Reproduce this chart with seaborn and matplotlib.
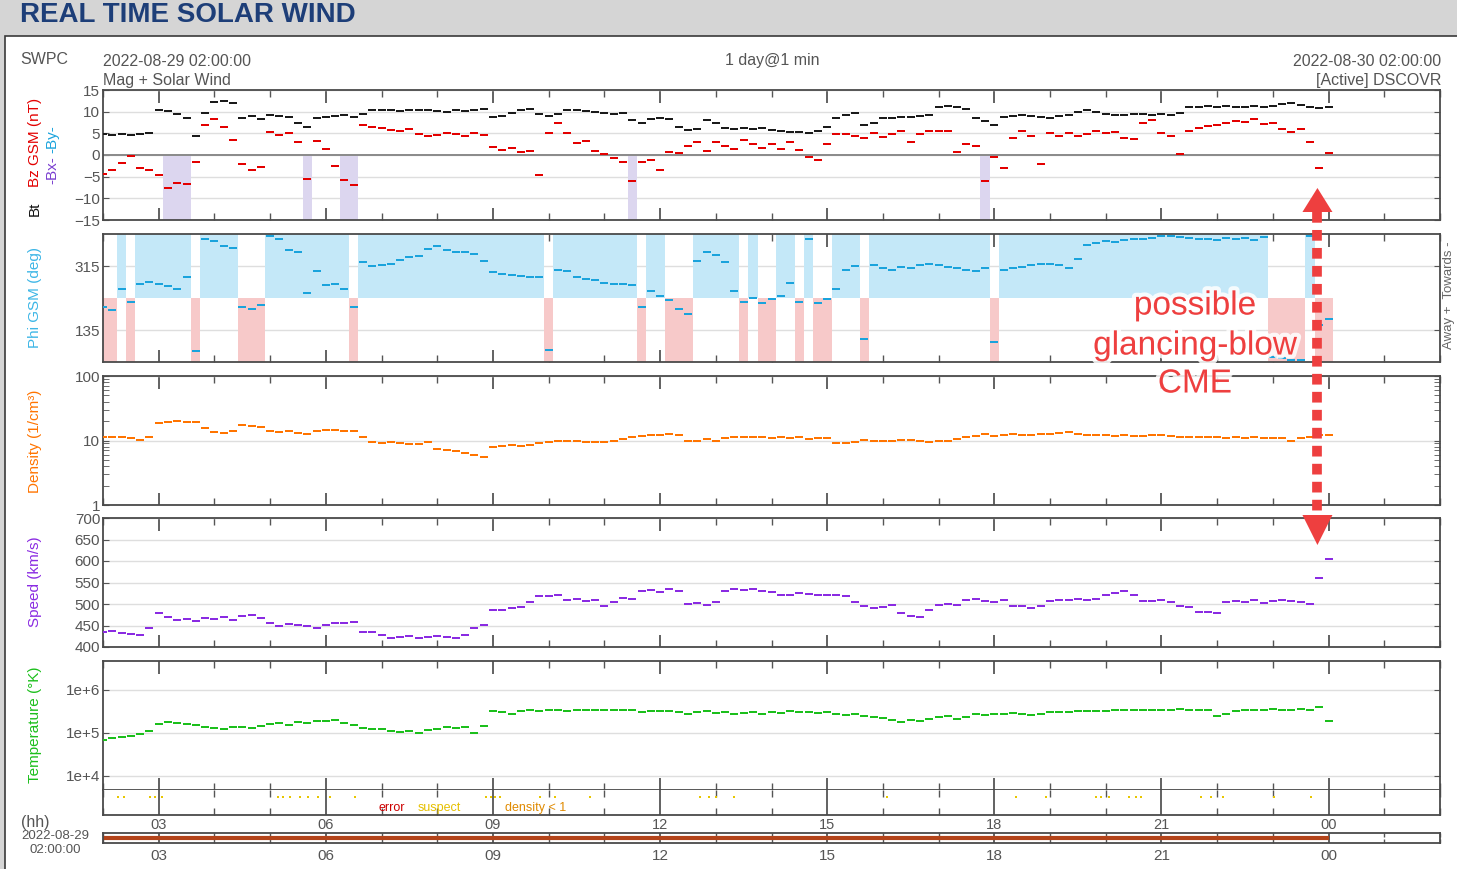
import numpy as np
import pandas as pd
import seaborn as sns
import matplotlib.pyplot as plt
import matplotlib.patheffects as pe
import matplotlib.transforms as mtransforms
from matplotlib.patches import Rectangle, Polygon
from matplotlib.lines import Line2D
from matplotlib.ticker import FixedLocator

# DSCOVR real time solar wind, 2022-08-29 02:00 UTC -> 2022-08-30 02:00 UTC
# values, one sample every 10 minutes
minutes = np.arange(0, 1321, 10)

bt = [4.8, 4.7, 4.9, 4.6, 4.8, 5.0,
      10.5, 10.2, 9.5, 8.5, 4.5, 9.8,
      12.2, 12.5, 12.0, 8.6, 9.0, 8.3,
      9.3, 9.0, 8.7, 7.5, 6.5, 8.5,
      8.8, 9.0, 9.2, 8.8, 9.5, 10.4,
      10.3, 10.5, 10.2, 10.4, 10.3, 10.5,
      10.2, 10.0, 10.3, 10.2, 10.5, 10.6,
      8.8, 9.0, 9.8, 10.5, 10.6, 9.4,
      9.0, 9.5, 10.3, 10.5, 10.2, 10.0,
      9.6, 9.4, 9.8, 8.0, 7.4, 8.3,
      8.6, 8.2, 6.5, 5.8, 6.0, 8.0,
      7.5, 6.3, 6.0, 6.2, 6.0, 6.2,
      5.8, 5.5, 5.3, 5.2, 5.0, 5.5,
      6.5, 8.5, 9.2, 9.6, 7.0, 7.3,
      8.5, 8.6, 8.8, 8.7, 9.0, 9.2,
      11.0, 11.2, 11.0, 10.6, 8.5, 7.8,
      7.0, 8.7, 9.0, 9.3, 9.0, 8.8,
      8.6, 8.9, 9.3, 10.0, 10.3, 10.0,
      9.4, 9.2, 9.3, 9.5, 9.4, 9.3,
      9.4, 9.2, 9.6, 11.0, 11.1, 11.2,
      11.1, 11.2, 11.0, 11.1, 11.2, 11.0,
      11.3, 11.8, 12.0, 11.5, 11.0, 10.8,
      11.0]

bz = [-4.3, -3.5, -1.8, -0.2, -3.0, -3.5,
      -4.5, -7.5, -6.5, -6.8, -1.5, 7.0,
      8.3, 6.5, 3.5, -2.0, -3.5, -2.8,
      5.2, 4.7, 5.0, 3.0, -5.5, 3.3,
      1.5, -2.5, -5.8, -7.0, 7.0, 6.5,
      6.2, 5.8, 5.5, 6.0, 4.8, 4.5,
      4.6, 5.0, 4.8, 4.5, 5.0, 4.6,
      1.8, 1.2, 1.6, 0.6, 1.0, -4.5,
      5.0, 7.5, 5.0, 2.8, 3.2, 1.0,
      0.3, -0.8, -1.5, -6.0, -1.5, -1.2,
      -3.5, 0.8, 0.5, 2.0, 3.0, 1.0,
      3.0, 2.0, 1.5, 3.5, 2.5, 1.7,
      2.5, 1.5, 3.0, 1.2, -0.5, -1.2,
      2.5, 4.8, 4.9, 4.5, 4.0, 5.0,
      4.2, 4.8, 5.5, 3.0, 4.8, 5.5,
      5.6, 5.6, 0.8, 2.5, 2.0, -6.0,
      -0.5, -3.0, 4.0, 5.5, 4.5, -2.0,
      5.0, 4.5, 5.0, 4.3, 4.8, 5.5,
      5.0, 5.2, 4.0, 3.8, 7.5, 8.0,
      5.0, 4.5, 0.2, 5.5, 6.3, 6.8,
      7.0, 7.5, 7.8, 7.6, 8.3, 7.2,
      7.5, 6.0, 5.3, 6.0, 3.0, -3.0,
      0.5]

phi = [200, 190, 250, 215, 265, 270,
       265, 258, 250, 285, 75, 390,
       385, 370, 365, 200, 195, 205,
       400, 390, 360, 355, 240, 300,
       262, 265, 250, 200, 325, 315,
       318, 322, 332, 340, 343, 362,
       372, 360, 353, 355, 350, 330,
       298, 292, 290, 286, 283, 284,
       80, 305, 300, 283, 278, 275,
       268, 265, 265, 262, 200, 245,
       230, 220, 195, 180, 330, 355,
       345, 325, 245, 215, 225, 210,
       222, 230, 268, 215, 390, 210,
       222, 250, 305, 315, 110, 318,
       310, 305, 312, 310, 318, 322,
       318, 312, 308, 303, 302, 308,
       100, 305, 310, 313, 318, 320,
       322, 318, 310, 335, 375, 380,
       385, 383, 388, 392, 390, 395,
       400, 398, 396, 395, 392, 390,
       388, 393, 390, 394, 388, 396,
       58, 55, 52, 50, 398, 150,
       165]

density = [11.3, 11.5, 11.2, 11.0, 10.2, 11.5,
           19.0, 19.5, 19.8, 19.2, 19.5, 15.5,
           13.6, 13.2, 13.8, 17.2, 16.8, 16.2,
           13.8, 13.7, 13.9, 13.2, 12.8, 14.0,
           14.3, 14.5, 14.2, 14.0, 11.2, 9.5,
           9.3, 9.5, 9.0, 8.9, 8.8, 9.6,
           7.5, 7.2, 6.8, 6.4, 6.0, 5.6,
           8.0, 8.3, 8.5, 8.2, 8.6, 9.2,
           9.6, 9.8, 9.7, 9.8, 9.5, 9.6,
           9.5, 9.7, 10.5, 11.5, 11.8, 12.0,
           12.2, 12.5, 12.0, 10.0, 9.8, 10.4,
           10.0, 11.0, 11.3, 11.2, 11.5, 11.2,
           11.0, 11.3, 10.8, 11.2, 10.6, 10.8,
           11.0, 9.3, 9.0, 9.4, 10.2, 10.0,
           10.0, 9.8, 10.2, 10.3, 9.8, 9.6,
           10.0, 9.8, 10.5, 11.3, 11.6, 12.5,
           11.8, 12.0, 12.5, 12.3, 12.0, 12.5,
           12.8, 13.2, 13.6, 12.8, 12.0, 12.2,
           12.0, 11.8, 12.0, 11.6, 11.8, 12.0,
           12.0, 11.8, 11.5, 11.3, 11.4, 11.2,
           11.3, 11.1, 11.2, 11.0, 11.2, 11.0,
           10.8, 11.0, 10.0, 10.8, 11.5, 12.0,
           12.2]

speed = [436, 437, 432, 430, 428, 445,
         478, 470, 462, 465, 460, 468,
         465, 470, 462, 473, 475, 468,
         455, 450, 453, 452, 448, 445,
         452, 455, 456, 457, 435, 435,
         428, 422, 424, 425, 420, 423,
         425, 424, 422, 428, 444, 452,
         485, 487, 490, 492, 505, 518,
         518, 520, 510, 512, 508, 510,
         495, 505, 514, 512, 530, 532,
         528, 535, 530, 500, 502, 498,
         505, 530, 535, 532, 534, 530,
         528, 522, 520, 525, 523, 520,
         520, 522, 518, 505, 495, 490,
         492, 498, 478, 472, 470, 485,
         498, 500, 497, 510, 512, 508,
         505, 510, 495, 495, 490, 495,
         508, 510, 510, 512, 510, 512,
         520, 525, 530, 520, 508, 506,
         510, 505, 495, 492, 482, 481,
         480, 505, 508, 505, 510, 503,
         508, 510, 506, 505, 500, 560,
         605]

temperature = [7.0e4, 7.5e4, 8.0e4, 8.5e4, 9.5e4, 1.1e5,
               1.6e5, 1.8e5, 1.7e5, 1.6e5, 1.5e5, 1.4e5,
               1.3e5, 1.25e5, 1.35e5, 1.4e5, 1.3e5, 1.45e5,
               1.6e5, 1.7e5, 1.5e5, 1.8e5, 1.7e5, 1.9e5,
               1.9e5, 2.0e5, 1.7e5, 1.5e5, 1.3e5, 1.2e5,
               1.2e5, 1.1e5, 1.05e5, 1.1e5, 1.0e5, 1.15e5,
               1.2e5, 1.4e5, 1.3e5, 1.4e5, 1.0e5, 1.45e5,
               3.2e5, 3.0e5, 2.8e5, 3.2e5, 3.4e5, 3.3e5,
               3.5e5, 3.4e5, 3.3e5, 3.5e5, 3.4e5, 3.4e5,
               3.4e5, 3.4e5, 3.4e5, 3.4e5, 3.0e5, 3.3e5,
               3.2e5, 3.3e5, 3.0e5, 2.8e5, 3.1e5, 3.2e5,
               2.9e5, 3.1e5, 2.7e5, 2.9e5, 3.1e5, 2.8e5,
               3.0e5, 2.9e5, 3.2e5, 3.0e5, 3.1e5, 2.9e5,
               3.0e5, 2.8e5, 2.6e5, 2.7e5, 2.5e5, 2.3e5,
               2.2e5, 2.0e5, 1.8e5, 2.0e5, 1.9e5, 2.1e5,
               2.3e5, 2.5e5, 2.1e5, 2.4e5, 2.8e5, 2.6e5,
               2.7e5, 2.8e5, 2.9e5, 2.8e5, 2.6e5, 2.8e5,
               3.0e5, 3.1e5, 3.0e5, 3.2e5, 3.2e5, 3.3e5,
               3.3e5, 3.4e5, 3.5e5, 3.4e5, 3.5e5, 3.5e5,
               3.5e5, 3.5e5, 3.6e5, 3.5e5, 3.4e5, 3.5e5,
               2.5e5, 2.7e5, 3.2e5, 3.5e5, 3.4e5, 3.5e5,
               3.6e5, 3.5e5, 3.4e5, 3.6e5, 3.5e5, 4.0e5,
               1.9e5]

# times (hours after 02:00) flagged "suspect" in the quality strip
suspect_hours = [0.27, 0.38, 0.84, 0.93, 1.06, 3.14, 3.23, 3.36, 3.54, 3.68,
                 3.86, 4.08, 4.53, 6.88, 6.97, 7.04, 7.13, 7.85, 8.12, 8.75,
                 10.72, 10.87, 11.01, 11.32, 14.08, 16.38, 16.92, 17.82, 17.91,
                 18.05, 18.41, 18.54, 18.63, 19.71, 19.89, 20.10, 21.02, 21.68]

cme_hour = 21.8          # arrival of the shock at DSCOVR
sector_split = 225       # phi boundary between away / towards
bz_south = -5            # Bz below this gets the purple shading

df = pd.DataFrame({'hours': minutes / 60, 'bt': bt, 'bz': bz, 'phi': phi,
                   'density': density, 'speed': speed, 'temp': temperature})

sns.set_style('white')
plt.rcParams['font.family'] = ['Liberation Sans', 'DejaVu Sans']

W, H = 1457, 869
fig = plt.figure(figsize=(W / 100, H / 100), dpi=100)
fig.patch.set_facecolor('#d5d5d5')
fig.add_artist(Rectangle((5 / W, -0.01), 1.0, 1 - 36 / H + 0.01, transform=fig.transFigure,
                         facecolor='white', edgecolor='#3a3a3a', lw=1.2, zorder=-10))

grey = '#555555'


def px(x, y):
    return x / W, 1 - y / H


def add_ax(top, bottom):
    ax = fig.add_axes([103 / W, 1 - bottom / H, 1337 / W, (bottom - top) / H])
    ax.set_zorder(2)
    return ax


major_hours = list(range(1, 24, 3))
hour_labels = [f'{(2 + h) % 24:02d}' for h in major_hours]


def style(ax, labels=False, pad=3):
    ax.set_xlim(0, 24)
    ax.xaxis.set_major_locator(FixedLocator(major_hours))
    ax.xaxis.set_minor_locator(FixedLocator(range(0, 25)))
    ax.set_xticklabels(hour_labels if labels else [])
    ax.tick_params(axis='x', which='major', direction='in', length=9, width=1.3,
                   top=True, bottom=True, color=grey, labelsize=11.5, labelcolor=grey, pad=pad)
    ax.tick_params(axis='x', which='minor', direction='in', length=5, width=1,
                   top=True, bottom=True, color=grey)
    ax.tick_params(axis='y', which='both', direction='in', length=4, left=True, right=True,
                   color=grey, labelsize=11, labelcolor=grey, pad=2)
    ax.set_xlabel('')
    ax.set_ylabel('')
    for s in ax.spines.values():
        s.set_color('#4a4a4a')
        s.set_linewidth(1.3)


# short horizontal tick per 10-min sample, so the series reads as a dotted trace
dash = [(-1, -0.3), (1, -0.3), (1, 0.3), (-1, 0.3)]
dot = dict(s=30, marker=dash, linewidth=0, legend=False, zorder=3)

# --- magnetic field
ax_mag = add_ax(90, 220)
south = df[df['bz'] < bz_south]
ax_mag.bar(south['hours'], -15, bottom=0, width=1 / 6, color='#dcd6ef', linewidth=0, zorder=1)
ax_mag.axhline(0, color='#8a8a8a', lw=1.4, zorder=2)
sns.scatterplot(data=df, x='hours', y='bt', color='#1a1a1a', ax=ax_mag, **dot)
sns.scatterplot(data=df, x='hours', y='bz', color='#e30000', ax=ax_mag, **dot)
ax_mag.set_ylim(-15, 15)
ax_mag.set_yticks(range(-15, 16, 5))
ax_mag.grid(axis='y', color='#dedede', lw=1, zorder=0)
style(ax_mag)

# --- phi angle with sector shading
ax_phi = add_ax(234, 362)
tow = df[df['phi'] >= sector_split]
away = df[df['phi'] < sector_split]
ax_phi.bar(tow['hours'], 405 - sector_split, bottom=sector_split, width=1 / 6,
           color='#c4e8f8', linewidth=0, zorder=1)
ax_phi.bar(away['hours'], sector_split - 45, bottom=45, width=1 / 6,
           color='#f7c9c9', linewidth=0, zorder=1)
sns.scatterplot(data=df, x='hours', y='phi', color='#1aa3dc', ax=ax_phi, **dot)
ax_phi.set_ylim(45, 405)
ax_phi.set_yticks([135, 315])
ax_phi.grid(axis='y', color='#dedede', lw=1, zorder=2)
style(ax_phi)

# --- density
ax_den = add_ax(376, 505)
sns.scatterplot(data=df, x='hours', y='density', color='#ff7400', ax=ax_den, **dot)
ax_den.set_yscale('log')
ax_den.set_ylim(1, 100)
ax_den.set_yticks([1, 10, 100])
ax_den.set_yticklabels(['1', '10', '100'])
ax_den.grid(axis='y', which='major', color='#dedede', lw=1, zorder=0)
style(ax_den)

# --- speed
ax_spd = add_ax(518, 647)
sns.scatterplot(data=df, x='hours', y='speed', color='#8a2be2', ax=ax_spd, **dot)
ax_spd.set_ylim(400, 700)
ax_spd.set_yticks(range(400, 701, 50))
ax_spd.grid(axis='y', color='#dedede', lw=1, zorder=0)
style(ax_spd)

# --- temperature
ax_tmp = add_ax(661, 790)
sns.scatterplot(data=df, x='hours', y='temp', color='#1cbf1c', ax=ax_tmp, **dot)
ax_tmp.set_yscale('log')
ax_tmp.set_ylim(4.7e3, 4.7e6)
ax_tmp.set_yticks([1e4, 1e5, 1e6])
ax_tmp.set_yticklabels(['1e+4', '1e+5', '1e+6'])
ax_tmp.minorticks_off()
ax_tmp.grid(axis='y', which='major', color='#dedede', lw=1, zorder=0)
style(ax_tmp)

# --- quality flags strip
ax_q = add_ax(790, 815)
ax_q.scatter(suspect_hours, np.full(len(suspect_hours), 0.72), marker='s', s=3,
             color='#e8c600', linewidths=0)
ax_q.set_ylim(0, 1)
ax_q.set_yticks([])
style(ax_q, labels=True, pad=2.5)
ax_q.tick_params(axis='x', labelsize=10.5)
ax_q.spines['top'].set_visible(False)
fig.text(*px(392, 808), 'error', color='#cc0000', fontsize=9, ha='center', va='center')
fig.text(*px(439, 808), 'suspect', color='#e6c000', fontsize=9, ha='center', va='center')
fig.text(*px(536, 808), 'density < 1', color='#e08a00', fontsize=9, ha='center', va='center')

# --- time line
ax_tl = add_ax(833, 843)
ax_tl.set_zorder(1)
ax_tl.plot([df['hours'].iloc[0], df['hours'].iloc[-1]], [0.5, 0.5], color='#b3441a', lw=3,
           solid_capstyle='butt')
ax_tl.set_ylim(0, 1)
ax_tl.set_yticks([])
style(ax_tl, labels=True, pad=4)
ax_tl.tick_params(axis='x', which='major', length=5, labelsize=11)
ax_tl.tick_params(axis='x', which='minor', length=3)

# --- header and titles
fig.text(20 / W, 1 - 15 / H, 'REAL TIME SOLAR WIND', fontsize=20, fontweight='bold',
         color='#1d3e78', ha='left', va='center')
fig.text(*px(20, 59), 'SWPC', fontsize=11.5, color=grey, ha='left', va='center')
fig.text(*px(103, 61), '2022-08-29 02:00:00', fontsize=11.5, color=grey, ha='left', va='center')
fig.text(*px(103, 80), 'Mag + Solar Wind', fontsize=11.5, color=grey, ha='left', va='center')
fig.text(*px(772, 61), '1 day@1 min', fontsize=11.5, color=grey, ha='center', va='center')
fig.text(*px(1441, 61), '2022-08-30 02:00:00', fontsize=11.5, color=grey, ha='right', va='center')
fig.text(*px(1441, 80), '[Active] DSCOVR', fontsize=11.5, color=grey, ha='right', va='center')

lab = dict(rotation=90, ha='center', va='center', fontsize=11)
fig.text(*px(35, 142), 'Bz GSM (nT)', color='#e30000', **lab)
fig.text(*px(52, 139), '-By-', color='#1aa3dc', **lab)
fig.text(*px(52, 170), '-Bx-', color='#7a3fd0', **lab)
fig.text(*px(35, 209), 'Bt', color='#111111', **lab)
fig.text(*px(35, 298), 'Phi GSM (deg)', color='#3db6e6', **lab)
fig.text(*px(35, 441), 'Density (1/cm³)', color='#ff7400', **lab)
fig.text(*px(35, 582), 'Speed (km/s)', color='#8a2be2', **lab)
fig.text(*px(35, 725), 'Temperature (°K)', color='#1cbf1c', **lab)
fig.text(*px(1449, 295), 'Away +  Towards -', rotation=90, ha='center', va='center',
         fontsize=9.5, color='#666666')

fig.text(*px(35, 822), '(hh)', fontsize=11.5, color=grey, ha='center', va='center')
fig.text(*px(55, 836), '2022-08-29', fontsize=9.5, color=grey, ha='center', va='center')
fig.text(*px(55, 850), '02:00:00', fontsize=9.5, color=grey, ha='center', va='center')

# --- CME annotation: dashed double arrow at the shock time
red = '#ee3f3f'
tr = mtransforms.blended_transform_factory(ax_mag.transData, fig.transFigure)
y_top, y_bot = 1 - 212 / H, 1 - 515 / H
fig.add_artist(Line2D([cme_hour, cme_hour], [y_top, y_bot], transform=tr, color=red,
                      lw=7, linestyle=(0, (1.1, 0.75)), solid_capstyle='butt',
                      dash_capstyle='butt', zorder=5))
half = 15 / 55.7
fig.add_artist(Polygon([[cme_hour - half, y_top], [cme_hour + half, y_top],
                        [cme_hour, 1 - 188 / H]], closed=True, transform=tr,
                       facecolor=red, edgecolor='none', zorder=5))
fig.add_artist(Polygon([[cme_hour - half, y_bot], [cme_hour + half, y_bot],
                        [cme_hour, 1 - 545 / H]], closed=True, transform=tr,
                       facecolor=red, edgecolor='none', zorder=5))
glow = [pe.withStroke(linewidth=6, foreground='white', alpha=0.85)]
for text, y in [('possible', 306), ('glancing-blow', 346), ('CME', 384)]:
    fig.text(*px(1195, y), text, fontsize=24, color=red, ha='center', va='center',
             path_effects=glow, zorder=5)

fig.savefig('out.png', dpi=100)
